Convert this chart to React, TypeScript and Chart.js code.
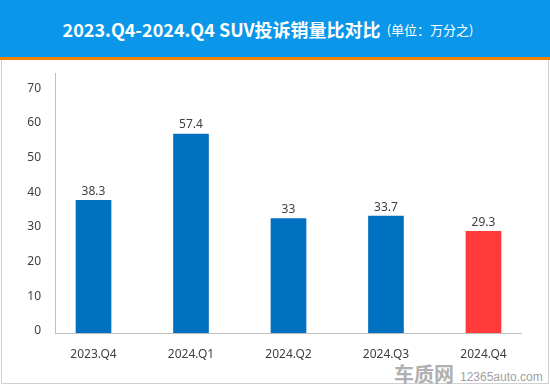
import React, { useEffect, useRef } from "react";
import { Chart, registerables } from "chart.js";

Chart.register(...registerables);

const categories = ["2023.Q4", "2024.Q1", "2024.Q2", "2024.Q3", "2024.Q4"];
const values = [38.3, 57.4, 33, 33.7, 29.3];
const barColors = ["#0070C0", "#0070C0", "#0070C0", "#0070C0", "#FF3A3A"];
const yTicks = [0, 10, 20, 30, 40, 50, 60, 70];

const FONT = '"Noto Sans", "Open Sans", sans-serif';

const labelPlugin = {
  id: "barLabels",
  afterDatasetsDraw(chart: any) {
    const ctx = chart.ctx;
    const meta = chart.getDatasetMeta(0);
    ctx.save();
    ctx.font = `12px ${FONT}`;
    ctx.fillStyle = "#404040";
    ctx.textAlign = "center";
    ctx.textBaseline = "bottom";
    meta.data.forEach((el: any, i: number) => {
      ctx.fillText(String(values[i]), el.x, el.y - 3);
    });
    ctx.restore();
  },
};

export default function App() {
  const ref = useRef<HTMLCanvasElement>(null);
  useEffect(() => {
    document.body.style.margin = "0";
    const chart = new Chart(ref.current!, {
      type: "bar",
      data: {
        datasets: [
          {
            data: values.map((v, i) => ({ x: i, y: v })),
            backgroundColor: barColors,
            barThickness: 35,
          },
        ],
      },
      options: {
        animation: false,
        responsive: false,
        maintainAspectRatio: false,
        layout: { padding: { left: 0, top: 73, right: 29, bottom: 0 } },
        plugins: { legend: { display: false }, tooltip: { enabled: false } },
        scales: {
          x: {
            type: "linear",
            offset: false,
            min: -0.395,
            max: 4.385,
            grid: { display: false },
            border: { display: true, color: "#BFBFBF", width: 1 },
            afterFit: (s: any) => {
              s.height = 53;
            },
            afterBuildTicks: (s: any) => {
              s.ticks = categories.map((_, i) => ({ value: i }));
            },
            ticks: {
              autoSkip: false,
              maxRotation: 0,
              padding: 6,
              color: "#404040",
              font: { family: FONT, size: 12 },
              callback: (v: any) => categories[v] ?? "",
            },
          },
          y: {
            min: 0,
            max: 75,
            grid: { display: false },
            border: { display: true, color: "#BFBFBF", width: 1 },
            afterFit: (s: any) => {
              s.width = 55;
            },
            afterBuildTicks: (s: any) => {
              s.ticks = yTicks.map((v) => ({ value: v }));
            },
            ticks: {
              padding: 6,
              color: "#404040",
              labelOffset: -2,
              font: { family: FONT, size: 12 },
            },
          },
        },
      },
      plugins: [labelPlugin],
    });
    return () => chart.destroy();
  }, []);

  return (
    <div style={{ position: "relative", width: 550, height: 386, background: "#fff", overflow: "hidden" }}>
      <div
        style={{
          position: "absolute",
          left: 0,
          top: 0,
          width: 550,
          height: 57,
          boxSizing: "border-box",
          paddingRight: 14,
          background: "#0A97E9",
          display: "flex",
          alignItems: "center",
          justifyContent: "center",
          color: "#fff",
          fontFamily: '"Noto Sans CJK SC", "Noto Sans", sans-serif',
          whiteSpace: "nowrap",
        }}
      >
        <span style={{ fontSize: 18, fontWeight: 700 }}>2023.Q4-2024.Q4 SUV投诉销量比对比</span>
        <span style={{ fontSize: 13, marginLeft: 6, marginTop: 2 }}>(单位：万分之)</span>
      </div>
      <div style={{ position: "absolute", left: 0, top: 57, width: 550, height: 3, background: "#F08300" }} />
      <div
        style={{
          position: "absolute",
          left: 1,
          top: 60,
          width: 548,
          height: 324,
          boxSizing: "border-box",
          borderLeft: "1px solid #D0D0D0",
          borderRight: "1px solid #D0D0D0",
          borderBottom: "1px solid #D0D0D0",
        }}
      />
      <span
        style={{
          position: "absolute",
          left: 394,
          top: 364,
          lineHeight: 1,
          color: "#B0B0B0",
          whiteSpace: "nowrap",
          fontFamily: '"Noto Sans CJK SC", sans-serif',
          fontSize: 20,
          fontWeight: 700,
        }}
      >
        车质网
      </span>
      <span
        style={{
          position: "absolute",
          left: 460,
          top: 371,
          lineHeight: 1,
          color: "#A0A0A0",
          whiteSpace: "nowrap",
          fontFamily: '"Liberation Sans", sans-serif',
          fontSize: 12,
        }}
      >
        12365auto.com
      </span>
      <canvas ref={ref} width={550} height={386} style={{ position: "absolute", left: 0, top: 0 }} />
    </div>
  );
}
